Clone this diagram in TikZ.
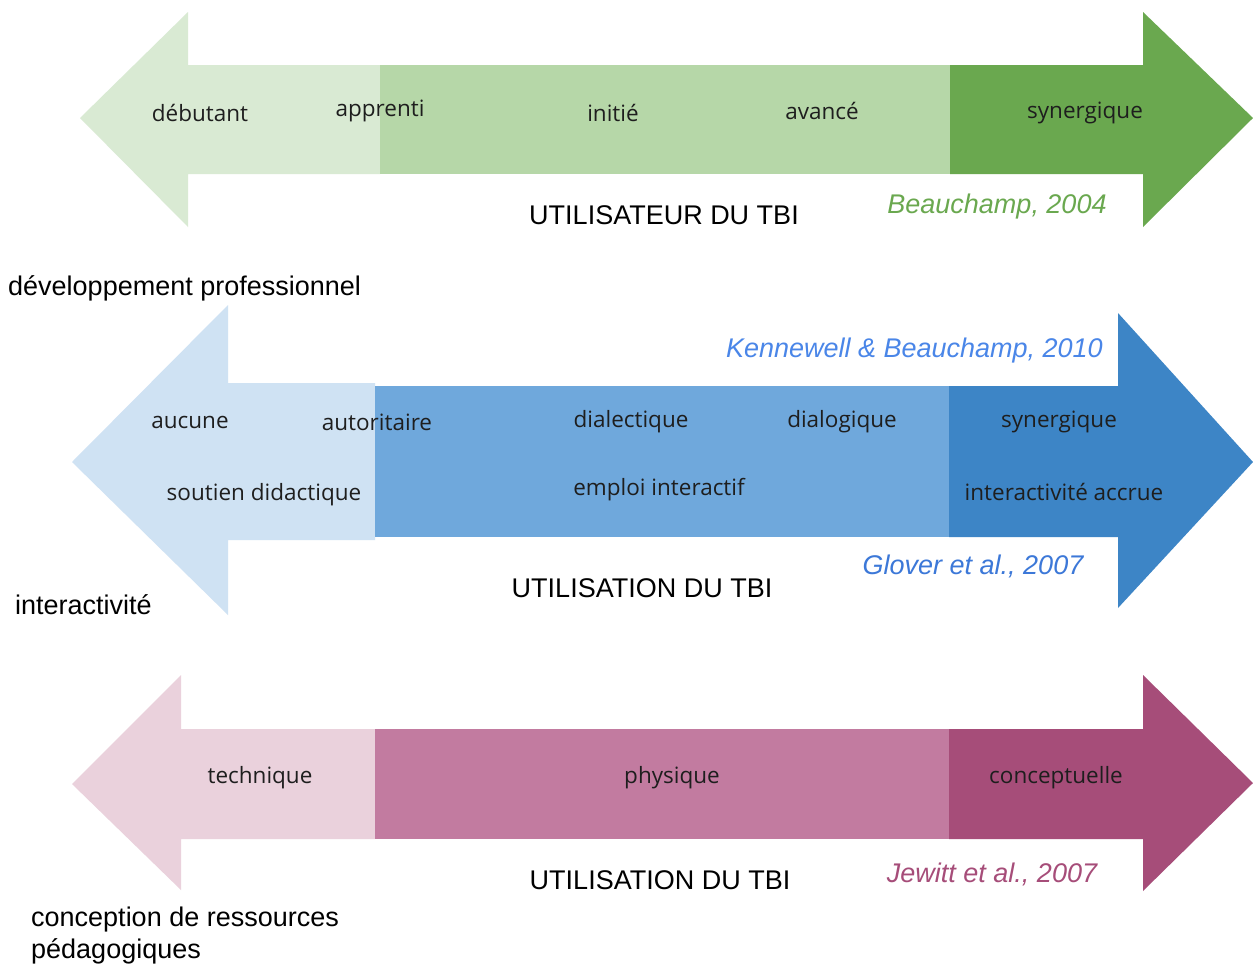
\documentclass[tikz,border=0pt]{standalone}
\usepackage{fontspec}
\setmainfont{Liberation Sans}
\newfontfamily\lblfont{Open Sans}
\definecolor{gA}{HTML}{D9EAD3}
\definecolor{gB}{HTML}{B6D7A8}
\definecolor{gC}{HTML}{6AA84F}
\definecolor{bA}{HTML}{CFE2F3}
\definecolor{bB}{HTML}{6FA8DC}
\definecolor{bC}{HTML}{3D85C6}
\definecolor{pA}{HTML}{EAD1DC}
\definecolor{pB}{HTML}{C27BA0}
\definecolor{pC}{HTML}{A64D79}
\definecolor{gT}{HTML}{6AA84F}
\definecolor{bT}{HTML}{4A86E8}
\definecolor{bT2}{HTML}{3C78D8}
\definecolor{pT}{HTML}{A64D79}
\definecolor{ink}{HTML}{1E1E1E}
\tikzset{
  lbl/.style={font=\lblfont\fontsize{22.5}{26}\selectfont, text=ink, inner sep=0pt},
  captxt/.style={font=\fontsize{27}{31}\selectfont, text=black, inner sep=0pt},
  cite/.style={font=\fontsize{27}{31}\selectfont\itshape, inner sep=0pt},
  side/.style={font=\fontsize{27}{31.5}\selectfont, text=black, inner sep=0pt, anchor=west, align=left},
}
\begin{document}
\begin{tikzpicture}[x=1pt,y=-1pt]
\useasboundingbox (0,0) rectangle (1253,967);
\fill[white] (0,0) rectangle (1253,967);
% ---- row 1 (green)
\fill[gA] (80,118) -- (188,12) -- (188,65) -- (380,65) -- (380,174) -- (188,174) -- (188,227) -- cycle;
\fill[gB] (380,65) rectangle (950,174);
\fill[gC] (950,65) -- (1143,65) -- (1143,12) -- (1253,118) -- (1143,227) -- (1143,174) -- (950,174) -- cycle;
\node[lbl] (deb) at (200,113) {débutant};
\node[lbl] (app) at (380,111) {apprenti};
\node[lbl] (ini) at (613,113) {initié};
\node[lbl] (ava) at (822,111) {avancé};
\node[lbl] (syn1) at (1085,113) {synergique};
\node[captxt] (util1) at (664,215) {UTILISATEUR DU TBI};
\node[cite, text=gT] (beau) at (997,207) {Beauchamp, 2004};
\node[side] (devp) at (8,288) {développement professionnel};
% ---- row 2 (blue)
\fill[bA] (72,462) -- (228,305) -- (228,383) -- (375,383) -- (375,540) -- (228,540) -- (228,615) -- cycle;
\fill[bB] (375,386) rectangle (949,537);
\fill[bC] (949,386) -- (1118,386) -- (1118,313) -- (1253,462) -- (1118,608) -- (1118,537) -- (949,537) -- cycle;
\node[cite, text=bT, anchor=east] (kenn) at (1103,351) {Kennewell \& Beauchamp, 2010};
\node[lbl] (auc) at (190,422) {aucune};
\node[lbl] (aut) at (377,422) {autoritaire};
\node[lbl] (dlc) at (631,422) {dialectique};
\node[lbl] (dlg) at (842,422) {dialogique};
\node[lbl] (syn2) at (1059,422) {synergique};
\node[lbl] (sou) at (264,495) {soutien\hspace{6pt}didactique};
\node[lbl] (emp) at (659,490) {emploi interactif};
\node[lbl] (iac) at (1064,492) {interactivité accrue};
\node[cite, text=bT2] (glov) at (973,566) {Glover et al., 2007};
\node[captxt] (util2) at (642,588) {UTILISATION DU TBI};
\node[side] (inter) at (15,605) {interactivité};
% ---- row 3 (pink)
\fill[pA] (72,784) -- (181,675) -- (181,729) -- (375,729) -- (375,839) -- (181,839) -- (181,890) -- cycle;
\fill[pB] (375,729) rectangle (949,839);
\fill[pC] (949,729) -- (1143,729) -- (1143,675) -- (1253,783) -- (1143,891) -- (1143,839) -- (949,839) -- cycle;
\node[lbl] (tec) at (260,778) {technique};
\node[lbl] (phy) at (672,778) {physique};
\node[lbl] (con) at (1056,778) {conceptuelle};
\node[captxt] (util3) at (660,880) {UTILISATION DU TBI};
\node[cite, text=pT] (jew) at (992,874) {Jewitt et al., 2007};
\node[side, anchor=north west] (conc) at (31,907) {conception de ressources\\pédagogiques};
\end{tikzpicture}
\end{document}
